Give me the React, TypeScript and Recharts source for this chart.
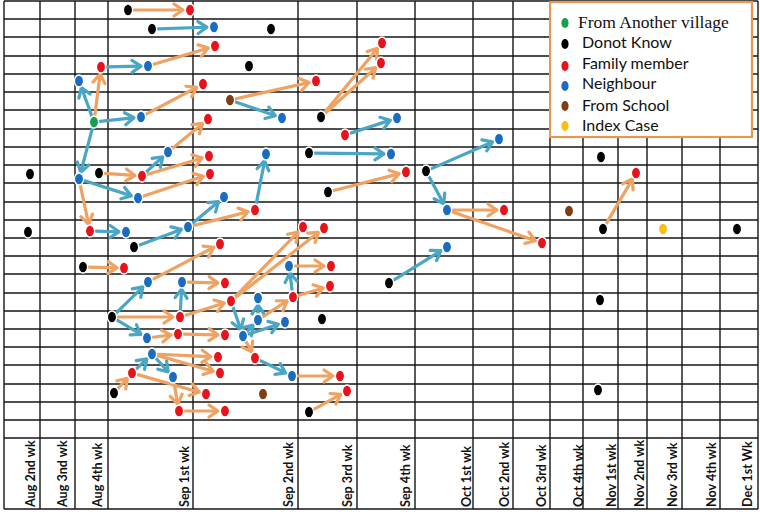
import React from 'react';
import { ScatterChart, Scatter, XAxis, YAxis, ReferenceLine, Legend } from 'recharts';

// ---- axis / grid data (chart units) ----
const WEEK_LABELS = ['Aug 2nd wk', 'Aug 3nd wk', 'Aug 4th wk', 'Sep 1st wk', 'Sep 2nd wk', 'Sep 3rd wk', 'Sep 4th wk', 'Oct 1st wk', 'Oct 2nd wk', 'Oct 3rd wk', 'Oct 4th wk', 'Nov 1st wk', 'Nov 2nd wk', 'Nov 3rd wk', 'Nov 4th wk', 'Dec 1st Wk'];
const WEEK_LABEL_POS = [30, 62, 97, 184, 288, 347, 405, 466, 504, 541, 578, 611, 639, 672, 711, 747];
const WEEK_BOUNDS = [4, 40, 75, 108, 193, 298, 357, 415, 473, 513, 550, 583, 618, 647, 682, 720, 758];
const ROW_LINES = [1, 19, 37, 56, 74, 92, 110, 129, 147, 165, 183, 202, 220, 238, 256, 274, 293, 311, 329, 347, 365, 384, 402, 420, 438];
const AXIS_BOTTOM = 509;

// ---- nodes by category: t = time position, row = vertical position ----
const FROM_ANOTHER_VILLAGE = [{ id: 'g1', t: 94, row: 122 }];
const DONOT_KNOW = [
  { id: 'k1', t: 128, row: 10 }, { id: 'k2', t: 152, row: 29 }, { id: 'k3', t: 271, row: 29 },
  { id: 'k4', t: 249, row: 66 }, { id: 'k5', t: 321, row: 117 }, { id: 'k6', t: 309, row: 153 },
  { id: 'k7', t: 601, row: 157 }, { id: 'k8', t: 30, row: 174 }, { id: 'k9', t: 99, row: 173 },
  { id: 'k10', t: 426, row: 171 }, { id: 'k11', t: 328, row: 192 }, { id: 'k12', t: 28, row: 232 },
  { id: 'k13', t: 603, row: 229 }, { id: 'k14', t: 737, row: 229 }, { id: 'k15', t: 134, row: 247 },
  { id: 'k16', t: 83, row: 267 }, { id: 'k17', t: 389, row: 283 }, { id: 'k18', t: 600, row: 300 },
  { id: 'k19', t: 112, row: 317 }, { id: 'k20', t: 322, row: 319 }, { id: 'k21', t: 598, row: 390 },
  { id: 'k22', t: 114, row: 393 }, { id: 'k23', t: 309, row: 412 },
];
const FAMILY_MEMBER = [
  { id: 'r1', t: 190, row: 10 }, { id: 'r2', t: 215, row: 46 }, { id: 'r3', t: 101, row: 67 },
  { id: 'r4', t: 203, row: 84 }, { id: 'r5', t: 316, row: 81 }, { id: 'r6', t: 382, row: 43 },
  { id: 'r7', t: 381, row: 63 }, { id: 'r8', t: 208, row: 119 }, { id: 'r9', t: 345, row: 135 },
  { id: 'r10', t: 209, row: 156 }, { id: 'r11', t: 142, row: 176 }, { id: 'r12', t: 210, row: 174 },
  { id: 'r13', t: 406, row: 172 }, { id: 'r14', t: 636, row: 173 }, { id: 'r15', t: 255, row: 210 },
  { id: 'r16', t: 504, row: 210 }, { id: 'r17', t: 90, row: 231 }, { id: 'r18', t: 303, row: 227 },
  { id: 'r19', t: 324, row: 228 }, { id: 'r20', t: 542, row: 243 }, { id: 'r21', t: 220, row: 244 },
  { id: 'r22', t: 124, row: 268 }, { id: 'r23', t: 331, row: 266 }, { id: 'r24', t: 225, row: 283 },
  { id: 'r25', t: 330, row: 286 }, { id: 'r26', t: 293, row: 297 }, { id: 'r27', t: 231, row: 301 },
  { id: 'r28', t: 180, row: 317 }, { id: 'r29', t: 178, row: 334 }, { id: 'r30', t: 225, row: 335 },
  { id: 'r31', t: 218, row: 357 }, { id: 'r32', t: 255, row: 358 }, { id: 'r33', t: 132, row: 373 },
  { id: 'r34', t: 220, row: 373 }, { id: 'r35', t: 340, row: 376 }, { id: 'r36', t: 347, row: 391 },
  { id: 'r37', t: 206, row: 394 }, { id: 'r38', t: 179, row: 411 }, { id: 'r39', t: 225, row: 411 },
];
const NEIGHBOUR = [
  { id: 'b1', t: 214, row: 27 }, { id: 'b2', t: 148, row: 66 }, { id: 'b3', t: 79, row: 81 },
  { id: 'b4', t: 141, row: 117 }, { id: 'b5', t: 282, row: 118 }, { id: 'b6', t: 397, row: 118 },
  { id: 'b7', t: 168, row: 152 }, { id: 'b8', t: 266, row: 154 }, { id: 'b9', t: 391, row: 154 },
  { id: 'b10', t: 499, row: 139 }, { id: 'b11', t: 79, row: 179 }, { id: 'b12', t: 138, row: 198 },
  { id: 'b13', t: 224, row: 197 }, { id: 'b14', t: 447, row: 210 }, { id: 'b15', t: 126, row: 232 },
  { id: 'b16', t: 188, row: 227 }, { id: 'b17', t: 447, row: 247 }, { id: 'b18', t: 289, row: 266 },
  { id: 'b19', t: 148, row: 282 }, { id: 'b20', t: 182, row: 282 }, { id: 'b21', t: 258, row: 298 },
  { id: 'b22', t: 258, row: 320 }, { id: 'b23', t: 285, row: 322 }, { id: 'b24', t: 147, row: 338 },
  { id: 'b25', t: 243, row: 336 }, { id: 'b26', t: 152, row: 354 }, { id: 'b27', t: 173, row: 377 },
  { id: 'b28', t: 292, row: 376 },
];
const FROM_SCHOOL = [{ id: 's1', t: 230, row: 100 }, { id: 's2', t: 569, row: 211 }, { id: 's3', t: 263, row: 394 }];
const INDEX_CASE = [{ id: 'y1', t: 663, row: 229 }];

// ---- transmission links (source -> target) ----
const FAMILY_LINKS = [
  ['k1', 'r1'], ['b2', 'r2'], ['g1', 'r3'], ['b4', 'r4'], ['s1', 'r5'], ['k5', 'r6'], ['k5', 'r7'],
  ['b7', 'r8'], ['r11', 'r10'], ['k9', 'r11'], ['b12', 'r12'], ['b11', 'r17'], ['k11', 'r13'],
  ['b14', 'r16'], ['b14', 'r20'], ['k13', 'r14'], ['b16', 'r15'], ['k16', 'r22'], ['b19', 'r21'],
  ['k19', 'r28'], ['b20', 'r24'], ['r28', 'r27'], ['r27', 'r18'], ['r27', 'r19'], ['b22', 'r26'],
  ['b25', 'r32'], ['b18', 'r23'], ['r26', 'r25'], ['b24', 'r29'], ['r29', 'r30'], ['b26', 'r31'],
  ['b26', 'r34'], ['k22', 'r33'], ['r33', 'r37'], ['b27', 'r38'], ['r38', 'r39'], ['b28', 'r35'],
  ['k23', 'r36'],
];
const NEIGHBOUR_LINKS = [
  ['k2', 'b1'], ['r3', 'b2'], ['g1', 'b3'], ['g1', 'b4'], ['g1', 'b11'], ['s1', 'b5'], ['r9', 'b6'],
  ['r11', 'b7'], ['b11', 'b12'], ['k6', 'b9'], ['k10', 'b10'], ['k10', 'b14'], ['k17', 'b17'],
  ['r17', 'b15'], ['k15', 'b16'], ['b16', 'b13'], ['r15', 'b8'], ['k19', 'b19'], ['k19', 'b24'],
  ['r28', 'b20'], ['r27', 'b25'], ['b25', 'b22'], ['b22', 'b21'], ['b25', 'b23'], ['r26', 'b18'],
  ['r33', 'b26'], ['b26', 'b27'], ['r32', 'b28'],
];

// ---- styles ----
const C_GREEN = '#12A24E';
const C_BLACK = '#000000';
const C_RED = '#E8121B';
const C_BLUE = '#1A6CC0';
const C_BROWN = '#7E3E12';
const C_YELLOW = '#F7C010';
const C_ORANGE_ARROW = '#EFA262';
const C_BLUE_ARROW = '#4AA6C6';
const C_LEGEND_BORDER = '#E9964F';
const GRID = '#151515';

const CATEGORIES = [
  { name: 'From Another village', color: C_GREEN, data: FROM_ANOTHER_VILLAGE, serif: true },
  { name: 'Donot Know', color: C_BLACK, data: DONOT_KNOW },
  { name: 'Family member', color: C_RED, data: FAMILY_MEMBER },
  { name: 'Neighbour', color: C_BLUE, data: NEIGHBOUR },
  { name: 'From School', color: C_BROWN, data: FROM_SCHOOL },
  { name: 'Index Case', color: C_YELLOW, data: INDEX_CASE },
];

const ALL_NODES: Record<string, { t: number; row: number }> = {};
CATEGORIES.forEach((c) => c.data.forEach((n) => { ALL_NODES[n.id] = n; }));

const makeDot = (color: string) => (props: any) => {
  const { cx, cy } = props;
  if (cx == null || cy == null) return <g />;
  return <ellipse cx={cx} cy={cy} rx={4.6} ry={6} fill={color} stroke="#ffffff" strokeWidth={1.3} />;
};

const makeArrow = (color: string) => (props: any) => {
  const pts = props.points;
  if (!pts || pts.length < 2) return <g />;
  const a = pts[0];
  const b = pts[1];
  const dx = b.x - a.x;
  const dy = b.y - a.y;
  const len = Math.hypot(dx, dy) || 1;
  const ux = dx / len;
  const uy = dy / len;
  const sx = a.x + ux * 6;
  const sy = a.y + uy * 6;
  const ex = b.x - ux * 7;
  const ey = b.y - uy * 7;
  const hl = 9;
  const hw = 6;
  const bx = ex - ux * hl;
  const by = ey - uy * hl;
  const px = -uy;
  const py = ux;
  return (
    <g>
      <line x1={sx} y1={sy} x2={ex - ux * 1.5} y2={ey - uy * 1.5} stroke={color} strokeWidth={3.2} strokeLinecap="round" />
      <polyline
        points={`${bx + px * hw},${by + py * hw} ${ex},${ey} ${bx - px * hw},${by - py * hw}`}
        fill="none"
        stroke={color}
        strokeWidth={3.2}
        strokeLinejoin="round"
        strokeLinecap="round"
      />
    </g>
  );
};

const emptyShape = () => <g />;

const WeekTick = (props: any) => {
  const { x, y, payload } = props;
  const idx = WEEK_LABEL_POS.indexOf(payload.value);
  const label = idx >= 0 ? WEEK_LABELS[idx] : '';
  return (
    <g transform={`translate(${x},${y - 2})`}>
      <text
        transform="rotate(-90)"
        dy="0.36em"
        textAnchor="start"
        fontFamily="Lato, 'Open Sans', sans-serif"
        fontWeight={700}
        fontSize={12.6}
        fill="#111"
      >
        {label}
      </text>
    </g>
  );
};

const LEGEND_DOT_Y = [22, 43, 65, 85, 105, 125];
const LEGEND_TEXT_Y = [27, 47, 68, 88, 110, 130];

const LegendBox = () => (
  <svg width={205} height={138} style={{ display: 'block' }}>
    <rect x={1} y={1} width={202} height={135} fill="#ffffff" stroke={C_LEGEND_BORDER} strokeWidth={2.2} />
    {CATEGORIES.map((c, i) => (
      <g key={c.name}>
        <ellipse cx={16} cy={LEGEND_DOT_Y[i]} rx={3.6} ry={5} fill={c.color} />
        <text
          x={c.serif ? 29 : 33}
          y={LEGEND_TEXT_Y[i]}
          fontFamily={c.serif ? "'Liberation Serif', 'Times New Roman', serif" : "Lato, 'Open Sans', sans-serif"}
          fontSize={c.serif ? 17.5 : 16}
          fill="#111"
        >
          {c.name}
        </text>
      </g>
    ))}
  </svg>
);

export default function App() {
  const links = [
    ...NEIGHBOUR_LINKS.map((l) => ({ from: l[0], to: l[1], color: C_BLUE_ARROW })),
    ...FAMILY_LINKS.map((l) => ({ from: l[0], to: l[1], color: C_ORANGE_ARROW })),
  ];
  return (
    <div style={{ position: 'absolute', left: 0, top: 0, background: '#fff' }}>
      <ScatterChart width={760} height={512} margin={{ top: 0, right: 0, bottom: 0, left: 0 }}>
        <XAxis
          type="number"
          dataKey="t"
          domain={[0, 760]}
          allowDataOverflow
          ticks={WEEK_LABEL_POS}
          interval={0}
          tick={<WeekTick />}
          tickLine={false}
          axisLine={false}
          tickSize={0}
          tickMargin={0}
          height={3}
        />
        <YAxis type="number" dataKey="row" domain={[0, AXIS_BOTTOM]} reversed hide allowDataOverflow />
        {ROW_LINES.map((r) => (
          <ReferenceLine
            key={`h${r}`}
            segment={[{ x: WEEK_BOUNDS[0], y: r }, { x: WEEK_BOUNDS[WEEK_BOUNDS.length - 1], y: r }]}
            stroke={GRID}
            strokeWidth={1.3}
            ifOverflow="visible"
          />
        ))}
        <ReferenceLine
          segment={[{ x: WEEK_BOUNDS[0], y: AXIS_BOTTOM }, { x: WEEK_BOUNDS[WEEK_BOUNDS.length - 1], y: AXIS_BOTTOM }]}
          stroke={GRID}
          strokeWidth={1.3}
          ifOverflow="visible"
        />
        {WEEK_BOUNDS.map((b) => (
          <ReferenceLine
            key={`v${b}`}
            segment={[{ x: b, y: ROW_LINES[0] }, { x: b, y: AXIS_BOTTOM }]}
            stroke={GRID}
            strokeWidth={1.4}
            ifOverflow="visible"
          />
        ))}
        {links.map((l, i) => (
          <Scatter
            key={`link${i}`}
            data={[ALL_NODES[l.from], ALL_NODES[l.to]]}
            line={makeArrow(l.color)}
            shape={emptyShape}
            legendType="none"
            isAnimationActive={false}
          />
        ))}
        {CATEGORIES.map((c) => (
          <Scatter key={c.name} name={c.name} data={c.data} shape={makeDot(c.color)} isAnimationActive={false} />
        ))}
        <Legend
          verticalAlign="middle"
          align="center"
          layout="horizontal"
          wrapperStyle={{ left: 549, top: 1, width: 205, height: 138 }}
          content={<LegendBox />}
        />
      </ScatterChart>
    </div>
  );
}
